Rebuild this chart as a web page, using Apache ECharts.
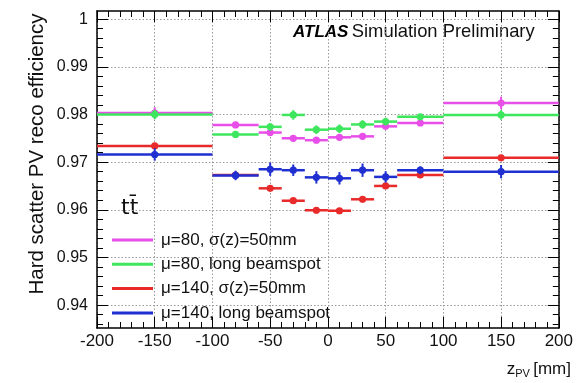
<!DOCTYPE html>
<html><head><meta charset="utf-8">
<script src="https://cdn.jsdelivr.net/npm/echarts@6/dist/echarts.min.js"></script>
<style>html,body{margin:0;padding:0;background:#fff}#c{width:576px;height:383px}</style>
</head><body><div id="c"></div>
<script>
const binLow    = [-200, -100, -60, -40, -20, 0, 20, 40, 60, 100];
const binHigh   = [-100, -60, -40, -20, 0, 20, 40, 60, 100, 200];
const binCenter = [-150, -80, -50, -30, -10, 10, 30, 50, 80, 150];

const mu80Sigma  = [0.9803, 0.9778, 0.9762, 0.9750, 0.9746, 0.9752, 0.9754, 0.9775, 0.9782, 0.9824];
const mu80Long   = [0.9800, 0.9758, 0.9774, 0.9799, 0.9768, 0.9770, 0.9779, 0.9785, 0.9795, 0.9799];
const mu140Sigma = [0.9734, 0.9673, 0.9645, 0.9619, 0.9599, 0.9598, 0.9622, 0.9650, 0.9673, 0.9709];
const mu140Long  = [0.9716, 0.9672, 0.9685, 0.9683, 0.9668, 0.9666, 0.9683, 0.9669, 0.9683, 0.9680];

const err80Sigma  = [0.0012, 0.0004, 0.0004, 0.0004, 0.0004, 0.0004, 0.0004, 0.0004, 0.0004, 0.0013];
const err80Long   = [0.0010, 0.0006, 0.0008, 0.0010, 0.0009, 0.0009, 0.0009, 0.0008, 0.0006, 0.0010];
const err140Sigma = [0.0004, 0.0003, 0.0003, 0.0003, 0.0003, 0.0003, 0.0003, 0.0003, 0.0003, 0.0004];
const err140Long  = [0.0013, 0.0010, 0.0014, 0.0012, 0.0013, 0.0013, 0.0014, 0.0012, 0.0008, 0.0014];

const seriesNames = ['\u03bc=80, \u03c3(z)=50mm', '\u03bc=80, long beamspot', '\u03bc=140, \u03c3(z)=50mm', '\u03bc=140, long beamspot'];
const yMajor = [0.94, 0.95, 0.96, 0.97, 0.98, 0.99, 1.00];
const yMinor = [0.936, 0.938, 0.942, 0.944, 0.946, 0.948, 0.952, 0.954, 0.956, 0.958, 0.962, 0.964, 0.966, 0.968, 0.972, 0.974, 0.976, 0.978, 0.982, 0.984, 0.986, 0.988, 0.992, 0.994, 0.996, 0.998];

const colors = ['#e84ee8', '#3ee65e', '#e82a2a', '#1f2fd0'];
const values = [mu80Sigma, mu80Long, mu140Sigma, mu140Long];
const errors = [err80Sigma, err80Long, err140Sigma, err140Long];

const FONT = 'Liberation Sans, Arial, Helvetica, sans-serif';
const Y_MIN = 0.9352, Y_MAX = 1.0017;

function makeData(vals, errs) {
  return binCenter.map((c, i) => [binLow[i], binHigh[i], c, vals[i], errs[i]]);
}

function renderItem(params, api) {
  const color = colors[params.seriesIndex];
  const lo = api.value(0), hi = api.value(1), xc = api.value(2), y = api.value(3), e = api.value(4);
  const pL = api.coord([lo, y]), pR = api.coord([hi, y]);
  const pT = api.coord([xc, y + e]), pB = api.coord([xc, y - e]);
  const pC = api.coord([xc, y]);
  return {
    type: 'group',
    children: [
      {type: 'line', shape: {x1: pL[0], y1: pL[1], x2: pR[0], y2: pR[1]}, style: {stroke: color, lineWidth: 2.5}},
      {type: 'line', shape: {x1: pT[0], y1: pT[1], x2: pB[0], y2: pB[1]}, style: {stroke: color, lineWidth: 2}},
      {type: 'circle', shape: {cx: pC[0], cy: pC[1], r: 3.6}, style: {fill: color}}
    ]
  };
}

const series = seriesNames.map((n, k) => ({
  name: n,
  type: 'custom',
  xAxisIndex: 0, yAxisIndex: 0,
  color: colors[k],
  itemStyle: {color: colors[k]},
  renderItem: renderItem,
  encode: {x: [0, 1, 2], y: [3]},
  data: makeData(values[k], errors[k]),
  clip: true
}));

const xCommon = {
  type: 'value', min: -200, max: 200, interval: 50,
  axisLine: {show: true, onZero: false, lineStyle: {color: '#000', width: 1.5}},
  axisTick: {show: true, inside: true, length: 11, lineStyle: {color: '#000', width: 1}},
  minorTick: {show: true, splitNumber: 5, length: 6, lineStyle: {color: '#000', width: 1}}
};

const chart = echarts.init(document.getElementById('c'), null, {renderer: 'canvas'});
chart.setOption({
  animation: false,
  backgroundColor: '#fff',
  grid: {left: 97, right: 13, top: 11, bottom: 55, show: false},
  xAxis: [
    Object.assign({}, xCommon, {
      position: 'bottom',
      axisLabel: {show: true, color: '#111', fontSize: 17, fontFamily: FONT, margin: 5},
      splitLine: {show: true, lineStyle: {color: '#999', type: [1.5, 2], width: 1}}
    }),
    Object.assign({}, xCommon, {
      position: 'top',
      axisLabel: {show: false},
      splitLine: {show: false}
    })
  ],
  yAxis: [
    {
      type: 'value', min: Y_MIN, max: Y_MAX, position: 'left',
      axisLine: {show: true, onZero: false, lineStyle: {color: '#000', width: 1.5}},
      axisTick: {show: true, inside: true, length: 11, customValues: yMajor, lineStyle: {color: '#000', width: 1}},
      axisLabel: {show: true, customValues: yMajor, color: '#111', fontSize: 16, fontFamily: FONT, margin: 9,
        formatter: v => (Math.abs(v - 1) < 1e-9 ? '1' : v.toFixed(2))},
      splitLine: {show: true, lineStyle: {color: '#999', type: [1.5, 2], width: 1}}
    },
    {
      type: 'value', min: Y_MIN, max: Y_MAX, position: 'left',
      axisLine: {show: false, onZero: false},
      axisTick: {show: true, inside: true, length: 6, customValues: yMinor, lineStyle: {color: '#000', width: 1}},
      axisLabel: {show: false, customValues: yMinor},
      splitLine: {show: false}
    },
    {
      type: 'value', min: Y_MIN, max: Y_MAX, position: 'right',
      axisLine: {show: true, onZero: false, lineStyle: {color: '#000', width: 1.5}},
      axisTick: {show: true, inside: true, length: 11, customValues: yMajor, lineStyle: {color: '#000', width: 1}},
      axisLabel: {show: false, customValues: yMajor},
      splitLine: {show: false}
    },
    {
      type: 'value', min: Y_MIN, max: Y_MAX, position: 'right',
      axisLine: {show: false, onZero: false},
      axisTick: {show: true, inside: true, length: 6, customValues: yMinor, lineStyle: {color: '#000', width: 1}},
      axisLabel: {show: false, customValues: yMinor},
      splitLine: {show: false}
    }
  ],
  legend: {
    orient: 'vertical', left: 112, top: 228, padding: 0,
    itemWidth: 41, itemHeight: 3, itemGap: 0.3,
    icon: 'rect',
    selectedMode: false,
    textStyle: {fontSize: 17, fontFamily: FONT, color: '#111', lineHeight: 24, padding: [0, 0, 0, 3]},
    data: seriesNames
  },
  graphic: [
    {type: 'text', left: 293, top: 23, style: {
      text: '{a|ATLAS} {b|Simulation Preliminary}',
      rich: {
        a: {fontSize: 17, fontWeight: 'bold', fontStyle: 'italic', fontFamily: FONT, fill: '#000'},
        b: {fontSize: 18.4, fontFamily: FONT, fill: '#111'}
      }
    }},
    {type: 'text', left: 121, top: 197, style: {text: 'tt\u0304', fontSize: 22, fontFamily: 'DejaVu Sans, ' + FONT, fill: '#111'}},
    {type: 'text', right: 5, top: 361, style: {
      text: '{z|z}{s|PV} {z|[mm]}',
      rich: {
        z: {fontSize: 17, fontFamily: FONT, fill: '#111'},
        s: {fontSize: 11, fontFamily: FONT, fill: '#111', verticalAlign: 'bottom', padding: [8, 0, 0, 0]}
      }
    }},
    {type: 'text', x: 37, y: 154, rotation: Math.PI / 2, style: {
      text: 'Hard scatter PV reco efficiency', fontSize: 20.5, fontFamily: FONT, fill: '#111',
      align: 'center', verticalAlign: 'middle'
    }}
  ],
  series: series
});
</script></body></html>
